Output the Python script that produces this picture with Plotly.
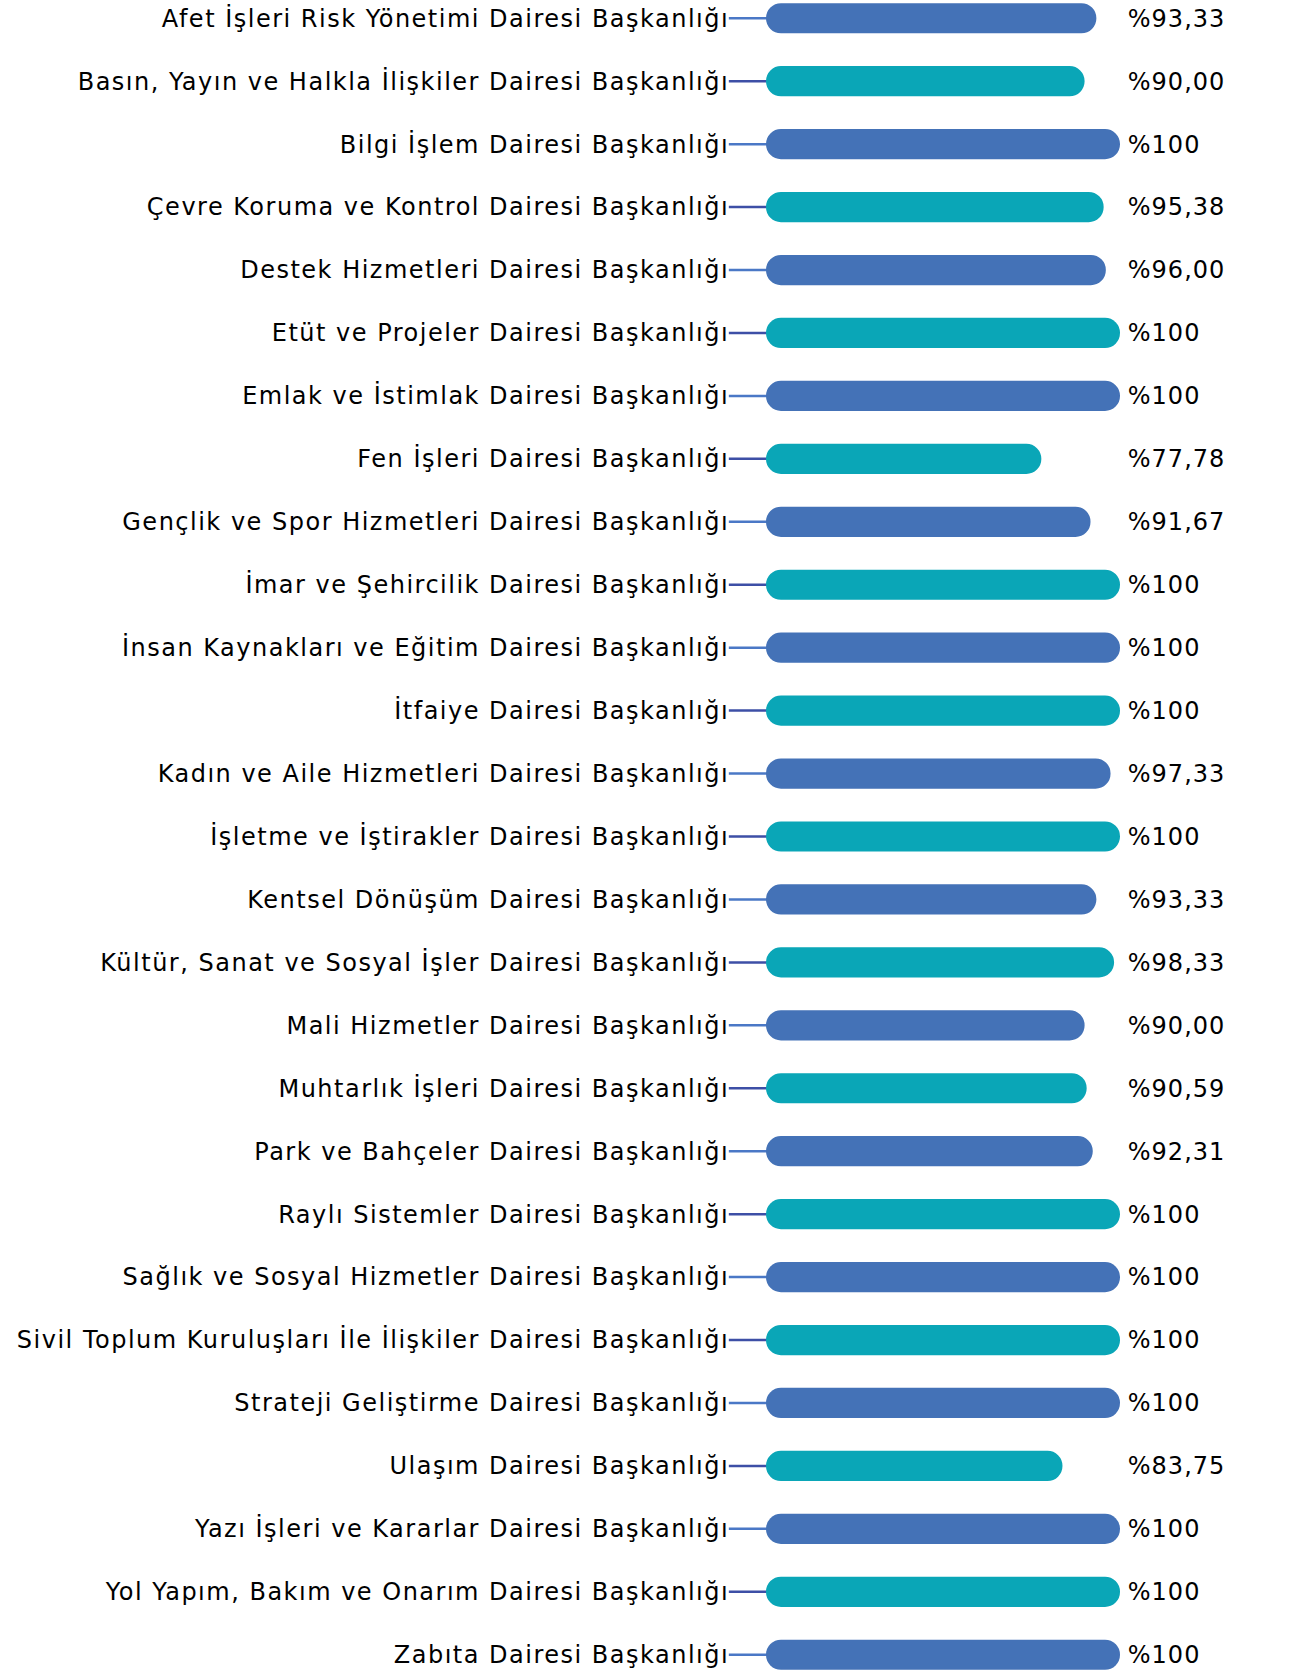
import plotly.graph_objects as go

categories = [
    "Afet İşleri Risk Yönetimi Dairesi Başkanlığı",
    "Basın, Yayın ve Halkla İlişkiler Dairesi Başkanlığı",
    "Bilgi İşlem Dairesi Başkanlığı",
    "Çevre Koruma ve Kontrol Dairesi Başkanlığı",
    "Destek Hizmetleri Dairesi Başkanlığı",
    "Etüt ve Projeler Dairesi Başkanlığı",
    "Emlak ve İstimlak Dairesi Başkanlığı",
    "Fen İşleri Dairesi Başkanlığı",
    "Gençlik ve Spor Hizmetleri Dairesi Başkanlığı",
    "İmar ve Şehircilik Dairesi Başkanlığı",
    "İnsan Kaynakları ve Eğitim Dairesi Başkanlığı",
    "İtfaiye Dairesi Başkanlığı",
    "Kadın ve Aile Hizmetleri Dairesi Başkanlığı",
    "İşletme ve İştirakler Dairesi Başkanlığı",
    "Kentsel Dönüşüm Dairesi Başkanlığı",
    "Kültür, Sanat ve Sosyal İşler Dairesi Başkanlığı",
    "Mali Hizmetler Dairesi Başkanlığı",
    "Muhtarlık İşleri Dairesi Başkanlığı",
    "Park ve Bahçeler Dairesi Başkanlığı",
    "Raylı Sistemler Dairesi Başkanlığı",
    "Sağlık ve Sosyal Hizmetler Dairesi Başkanlığı",
    "Sivil Toplum Kuruluşları İle İlişkiler Dairesi Başkanlığı",
    "Strateji Geliştirme Dairesi Başkanlığı",
    "Ulaşım Dairesi Başkanlığı",
    "Yazı İşleri ve Kararlar Dairesi Başkanlığı",
    "Yol Yapım, Bakım ve Onarım Dairesi Başkanlığı",
    "Zabıta Dairesi Başkanlığı",
]

values = [93.33, 90.00, 100, 95.38, 96.00, 100, 100, 77.78, 91.67, 100, 100, 100,
          97.33, 100, 93.33, 98.33, 90.00, 90.59, 92.31, 100, 100, 100, 100, 83.75,
          100, 100, 100]

value_labels = ["%93,33", "%90,00", "%100", "%95,38", "%96,00", "%100", "%100",
                "%77,78", "%91,67", "%100", "%100", "%100", "%97,33", "%100",
                "%93,33", "%98,33", "%90,00", "%90,59", "%92,31", "%100", "%100",
                "%100", "%100", "%83,75", "%100", "%100", "%100"]

BLUE = "#4472b7"
TEAL = "#0aa6b7"
LINE_BLUE = "#4a78c6"
LINE_INDIGO = "#3d4fa6"
TEXT = "#000000"

bar_colors = [BLUE if i % 2 == 0 else TEAL for i in range(len(categories))]
line_colors = [LINE_BLUE if i % 2 == 0 else LINE_INDIGO for i in range(len(categories))]
zeros = [0] * len(values)

FONT = "DejaVu Sans"
FSIZE = 24


def styled(t, spacing):
    return f"<span style='letter-spacing:{spacing}px'>{t}</span>"


fig = go.Figure()
fig.add_trace(go.Bar(
    y=categories, x=values, base=zeros, orientation="h",
    marker=dict(color=bar_colors, line=dict(width=0), cornerradius="50%"),
    hoverinfo="skip", showlegend=False,
))
# invisible trace to drive the right-hand value axis
fig.add_trace(go.Scatter(
    y=categories, x=values, yaxis="y2", mode="markers",
    marker=dict(opacity=0), hoverinfo="skip", showlegend=False,
))

n = len(categories)
shapes = []
for cat, lc in zip(categories, line_colors):
    shapes.append(dict(type="line", xref="x domain", yref="y", x0=-0.105, x1=0.01,
                       y0=cat, y1=cat, line=dict(color=lc, width=2.5), layer="below"))

pad = 0.29
fig.update_layout(
    width=1294, height=1673,
    margin=dict(l=766, r=174, t=0, b=0),
    paper_bgcolor="white", plot_bgcolor="white",
    barmode="overlay", bargap=0.52,
    font=dict(family=FONT, size=FSIZE, color=TEXT),
    shapes=shapes,
    xaxis=dict(range=[0, 100], visible=False, fixedrange=True),
    yaxis=dict(type="category", categoryorder="array", categoryarray=categories,
               range=[n - 1 + pad, -pad], showgrid=False, zeroline=False, showline=False,
               automargin=False, fixedrange=True,
               tickvals=categories, ticktext=[styled(c, 1.5) for c in categories],
               ticks="outside", ticklen=31, tickcolor="rgba(0,0,0,0)",
               tickfont=dict(family=FONT, size=FSIZE, color=TEXT)),
    yaxis2=dict(type="category", categoryorder="array", categoryarray=categories,
                overlaying="y", side="right", range=[n - 1 + pad, -pad],
                automargin=False, fixedrange=True,
                tickvals=categories, ticktext=[styled(v, 1) for v in value_labels],
                showgrid=False, zeroline=False, showline=False,
                ticks="outside", ticklen=2, tickcolor="rgba(0,0,0,0)",
                tickfont=dict(family=FONT, size=FSIZE, color=TEXT)),
)

fig.write_html("out.html", config={"displayModeBar": False},
               post_script="document.body.style.margin='0';")
